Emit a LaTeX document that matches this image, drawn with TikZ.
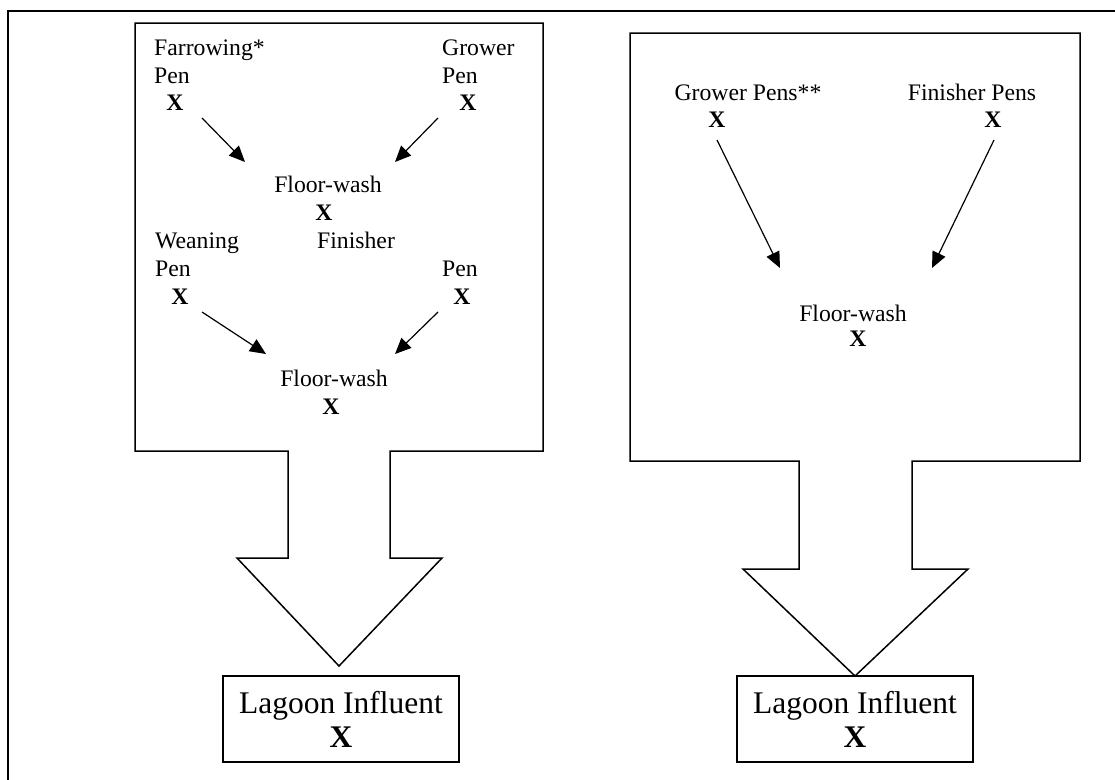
\documentclass[tikz,border=0pt]{standalone}
\usepackage{fontspec}
\setmainfont{Liberation Serif}
\usepackage{tikz}
\usetikzlibrary{arrows.meta}

\begin{document}
\begin{tikzpicture}[x=1pt, y=-1pt, inner sep=0pt,
    txt/.style={font=\fontsize{23.7}{28}\selectfont, align=left},
    xpt/.style={font=\fontsize{23.7}{28}\selectfont\bfseries},
    lagoon/.style={draw, line width=1.5pt, minimum width=236pt, minimum height=86pt, align=center, font=\fontsize{31.5}{34}\selectfont},
    flow/.style={-{Triangle[length=16pt,width=14pt]}, line width=1.2pt}]
      \useasboundingbox (0,0) rectangle (1115,779);

      % outer frame
      \draw[line width=1.8pt] (1120,11) -- (8,11) -- (8,785);

      % left house
      \draw[line width=1.5pt, line join=miter] (135,23) -- (543,23) -- (543,451) -- (390,451) -- (390,558) -- (442,558)
            -- (339,666) -- (237,558) -- (288,558) -- (288,451) -- (135,451) -- cycle;

      \node[txt, anchor=base west]  (FP)  at (154, 83)   {Farrowing*\\Pen};
      \node[xpt]                    (FX)  at (175,103)   {X};
      \node[txt, anchor=base west]  (GP)  at (442, 83)   {Grower\\Pen};
      \node[xpt]                    (GX)  at (468,103)   {X};
      \node[txt, anchor=base]       (W1)  at (328,192)   {Floor-wash};
      \node[xpt]                    (W1X) at (324,213)   {X};
      \node[txt, anchor=base west]  (WP)  at (155,276)   {Weaning\\Pen};
      \node[txt, anchor=base west]  (FN)  at (317,248)   {Finisher};
      \node[txt, anchor=base west]  (NP)  at (442,276)   {Pen};
      \node[xpt]                    (WX)  at (180,297)   {X};
      \node[xpt]                    (NX)  at (462,297)   {X};
      \node[txt, anchor=base]       (W2)  at (334,386)   {Floor-wash};
      \node[xpt]                    (W2X) at (331,407)   {X};

      \coordinate (a1) at (202,118);  \coordinate (b1) at (245,162);
      \coordinate (a2) at (438,118);  \coordinate (b2) at (395,162);
      \coordinate (a3) at (202,312);  \coordinate (b3) at (266,354);
      \coordinate (a4) at (438,312);  \coordinate (b4) at (395,354);

      \draw[flow] (a1) -- (b1);
      \draw[flow] (a2) -- (b2);
      \draw[flow] (a3) -- (b3);
      \draw[flow] (a4) -- (b4);

      \node[lagoon] (L1) at (341,719) {Lagoon Influent\\\textbf{X}};

      % right house
      \draw[line width=1.5pt, line join=miter] (630,33) -- (1080,33) -- (1080,461) -- (912,461) -- (912,569) -- (968,569)
            -- (855,676) -- (743,569) -- (799,569) -- (799,461) -- (630,461) -- cycle;

      \node[txt, anchor=base]       (RG)  at (748,100)   {Grower Pens**};
      \node[xpt]                    (RGX) at (717,120)   {X};
      \node[txt, anchor=base]       (RF)  at (972,100)   {Finisher Pens};
      \node[xpt]                    (RFX) at (993,120)   {X};
      \node[txt, anchor=base]       (RW)  at (853,321)   {Floor-wash};
      \node[xpt]                    (RWX) at (858,339)   {X};

      \coordinate (c1) at (717,140);  \coordinate (d1) at (780,268);
      \coordinate (c2) at (994,140);  \coordinate (d2) at (932,268);

      \draw[flow] (c1) -- (d1);
      \draw[flow] (c2) -- (d2);

      \node[lagoon] (L2) at (855,719) {Lagoon Influent\\\textbf{X}};
\end{tikzpicture}
\end{document}
